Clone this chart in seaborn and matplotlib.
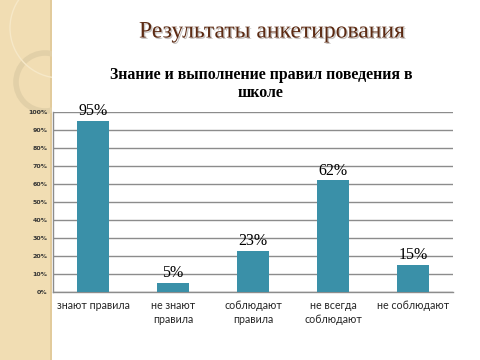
import matplotlib

matplotlib.use("Agg")
import matplotlib.pyplot as plt
import matplotlib.patheffects as pe
from matplotlib.patches import Rectangle, Ellipse
from matplotlib.ticker import FixedLocator, PercentFormatter
import pandas as pd
import seaborn as sns

# Survey data
categories = ["знают правила", "не знают\nправила", "соблюдают\nправила",
              "не всегда\nсоблюдают", "не соблюдают"]
values = [95, 5, 23, 62, 15]
y_ticks = list(range(0, 101, 10))

slide_title = "Результаты анкетирования"
chart_title = "Знание и выполнение правил поведения в\nшколе"

bar_color = "#3a90a8"
grid_color = "#8c8c8c"

sns.set_theme(style="white")
plt.rcParams["font.family"] = ["Liberation Serif", "DejaVu Serif"]

fig = plt.figure(figsize=(4.8, 3.6), dpi=100)
fig.patch.set_facecolor("white")

# beige side strip of the slide
strip = Rectangle((0, 0), 52 / 480, 1, transform=fig.transFigure,
                  facecolor="#f1ddb3", edgecolor="none", zorder=0)
fig.patches.append(strip)
fig.patches.append(Rectangle((50 / 480, 0), 2 / 480, 1, transform=fig.transFigure,
                             facecolor="#e2cb9c", edgecolor="none", zorder=0))
ring = Ellipse((45 / 480, 1 - 82 / 360), 58 / 480, 58 / 360, transform=fig.transFigure,
               facecolor="none", edgecolor="#e2d0a8", linewidth=4, zorder=0)
fig.patches.append(ring)
ring.set_clip_path(strip)
arc = Ellipse((60 / 480, 1 - 28 / 360), 100 / 480, 100 / 360, transform=fig.transFigure,
              facecolor="none", edgecolor="#f6e8c8", linewidth=1, zorder=0)
fig.patches.append(arc)
arc.set_clip_path(strip)

df = pd.DataFrame({"category": categories, "value": values})

ax = fig.add_axes([53 / 480, 68 / 360, 400 / 480, 180 / 360], zorder=2)
ax.patch.set_alpha(0)
sns.barplot(data=df, x="category", y="value", color=bar_color, width=0.4,
            saturation=1, linewidth=0, ax=ax, zorder=3)

ax.set_xlim(-0.5, len(categories) - 0.5)
ax.set_ylim(0, 100)
ax.set_yticks(y_ticks)
ax.yaxis.set_major_formatter(PercentFormatter(decimals=0))
ax.yaxis.grid(True, color=grid_color, linewidth=1)
ax.set_axisbelow(True)
ax.set_xlabel("")
ax.set_ylabel("")

for side in ["top", "right"]:
    ax.spines[side].set_visible(False)
for side in ["left", "bottom"]:
    ax.spines[side].set_color(grid_color)
    ax.spines[side].set_linewidth(1)

ax.tick_params(axis="y", labelsize=4.5, length=0, pad=4, labelcolor="#333333")
for lab in ax.get_yticklabels():
    lab.set_fontfamily(["DejaVu Sans"])
    lab.set_fontweight("bold")

ax.set_xticks(range(len(categories)))
ax.set_xticklabels(categories, fontsize=7.7, family=["Lato", "DejaVu Sans"],
                   linespacing=1.25, va="top")
ax.tick_params(axis="x", length=0, pad=6)
ax.xaxis.set_minor_locator(FixedLocator([i + 0.5 for i in range(-1, len(categories))]))
ax.tick_params(axis="x", which="minor", length=3, color=grid_color, width=1)

for i, v in enumerate(values):
    ax.text(i, v + 1, f"{v}%", ha="center", va="bottom", fontsize=11.5,
            color="black")

fig.text(272 / 480, 1 - 32 / 360, slide_title, ha="center", va="center",
         fontsize=17, color="#5c2a12",
         path_effects=[pe.withSimplePatchShadow(offset=(1, -1), alpha=0.25)])
fig.text(261 / 480, 1 - 84 / 360, chart_title, ha="center", va="center",
         fontsize=11.4, fontweight="bold", color="black", linespacing=1.15)

fig.savefig("out.png", dpi=100)
